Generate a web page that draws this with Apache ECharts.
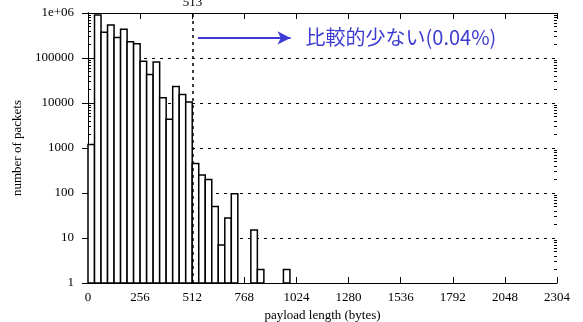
<!DOCTYPE html>
<html>
<head>
<meta charset="utf-8">
<script src="https://cdn.jsdelivr.net/npm/echarts@6/dist/echarts.min.js"></script>
<style>html,body{margin:0;padding:0;background:#fff}#c{width:583px;height:322px}</style>
</head>
<body>
<div id="c"></div>
<script>
// Histogram bins (bin start in bytes, 32-byte bins) and packet counts (null = empty bin)
const binWidth = 32;
const binStart = [0, 32, 64, 96, 128, 160, 192, 224, 256, 288, 320, 352, 384, 416, 448, 480,
                  512, 544, 576, 608, 640, 672, 704, 736, 768, 800, 832, 864, 896, 928, 960];
const packetCount = [1200, 900000, 372000, 540000, 287000, 435000, 230000, 208000, 85000, 42800, 81000, 13100, 4330, 23400, 15500, 10500,
                     450, 250, 200, 50, 7, 28, 96, null, null, 15, 2, null, null, null, 2];
const xTicks = [0, 256, 512, 768, 1024, 1280, 1536, 1792, 2048, 2304];
const yTickLabels = {1: '1', 10: '10', 100: '100', 1000: '1000', 10000: '10000', 100000: '100000', 1000000: '1e+06'};
const markerX = 513;
const arrowFrom = [540, 280000];
const arrowTo = [995, 280000];
const noteText = '比較的少ない(0.04%)';

const minorVals = [];
for (let e = 0; e < 6; e++) for (let k = 2; k <= 9; k++) minorVals.push(k * Math.pow(10, e));

const serif = 'Liberation Serif';
const blue = '#3c3cd2';
const data = [];
binStart.forEach((b, i) => { if (packetCount[i] != null) data.push([b, packetCount[i]]); });

const chart = echarts.init(document.getElementById('c'), null, {renderer: 'canvas'});
const baseY = {
  type: 'log', logBase: 10, min: 1, max: 1000000, splitNumber: 6,
  axisLine: {show: true, lineStyle: {color: '#000', width: 1}},
  axisTick: {show: true, inside: true, length: 6, lineStyle: {color: '#000', width: 1}},
  axisLabel: {show: false},
  splitLine: {show: false}
};
const minorY = (pos) => ({
  type: 'log', logBase: 10, min: 1, max: 1000000, position: pos,
  axisLine: {show: false},
  axisTick: {show: true, inside: true, length: 3, customValues: minorVals, lineStyle: {color: '#000', width: 1}},
  axisLabel: {show: false},
  splitLine: {show: false}
});
chart.setOption({
  animation: false,
  backgroundColor: '#fff',
  grid: {left: 88, right: 26, top: 13, bottom: 39, containLabel: false, outerBoundsMode: 'none'},
  xAxis: [{
    type: 'value', min: 0, max: 2304, interval: 256, position: 'bottom',
    name: 'payload length (bytes)', nameLocation: 'middle', nameGap: 21,
    nameTextStyle: {fontFamily: serif, fontSize: 13, color: '#000'},
    axisLine: {show: true, lineStyle: {color: '#000', width: 1}},
    axisTick: {show: true, inside: true, length: 6, lineStyle: {color: '#000'}},
    axisLabel: {fontFamily: serif, fontSize: 13, color: '#000', margin: 8,
      formatter: v => xTicks.indexOf(v) >= 0 ? String(v) : ''},
    splitLine: {show: false}
  }, {
    type: 'value', min: 0, max: 2304, interval: 256, position: 'top',
    axisLine: {show: true, lineStyle: {color: '#000', width: 1}},
    axisTick: {show: true, inside: true, length: 6, lineStyle: {color: '#000'}},
    axisLabel: {show: false}, splitLine: {show: false}
  }],
  yAxis: [
    Object.assign({}, baseY, {
      position: 'left',
      name: 'number of packets', nameLocation: 'middle', nameGap: 59,
      nameTextStyle: {fontFamily: serif, fontSize: 13, color: '#000'},
      axisLabel: {show: true, fontFamily: serif, fontSize: 13, color: '#000', margin: 14,
        formatter: v => yTickLabels[Math.round(v)] || ''},
      splitLine: {show: true, lineStyle: {color: '#000', width: 1, type: [3, 5]}}
    }),
    Object.assign({}, baseY, {position: 'right'}),
    minorY('left'),
    minorY('right')
  ],
  series: [{
    type: 'custom',
    xAxisIndex: 0, yAxisIndex: 0,
    data: data,
    renderItem: function (params, api) {
      const x0 = api.value(0), v = api.value(1);
      const p0 = api.coord([x0, v]);
      const p1 = api.coord([x0 + binWidth, 1]);
      return {
        type: 'rect',
        shape: {x: p0[0], y: p0[1], width: p1[0] - p0[0], height: p1[1] - p0[1]},
        style: {fill: '#fff', stroke: '#000', lineWidth: 1.5}
      };
    },
    markLine: {
      silent: true,
      symbol: ['none', 'none'],
      data: [
        [{coord: [markerX, 1], symbol: 'none',
          lineStyle: {color: '#000', width: 1.5, type: [3, 4]},
          label: {show: true, position: 'end', formatter: String(markerX), fontFamily: serif, fontSize: 13, color: '#000', distance: 4}},
         {coord: [markerX, 1000000], symbol: 'none'}],
        [{coord: arrowFrom, symbol: 'none', lineStyle: {color: blue, width: 2, type: 'solid'},
          label: {show: true, position: 'end', formatter: noteText, fontFamily: 'Noto Sans CJK JP', fontSize: 20, color: blue, distance: 15}},
         {coord: arrowTo, symbol: 'arrow', symbolSize: [10, 13]}]
      ]
    }
  }]
});
</script>
</body>
</html>
